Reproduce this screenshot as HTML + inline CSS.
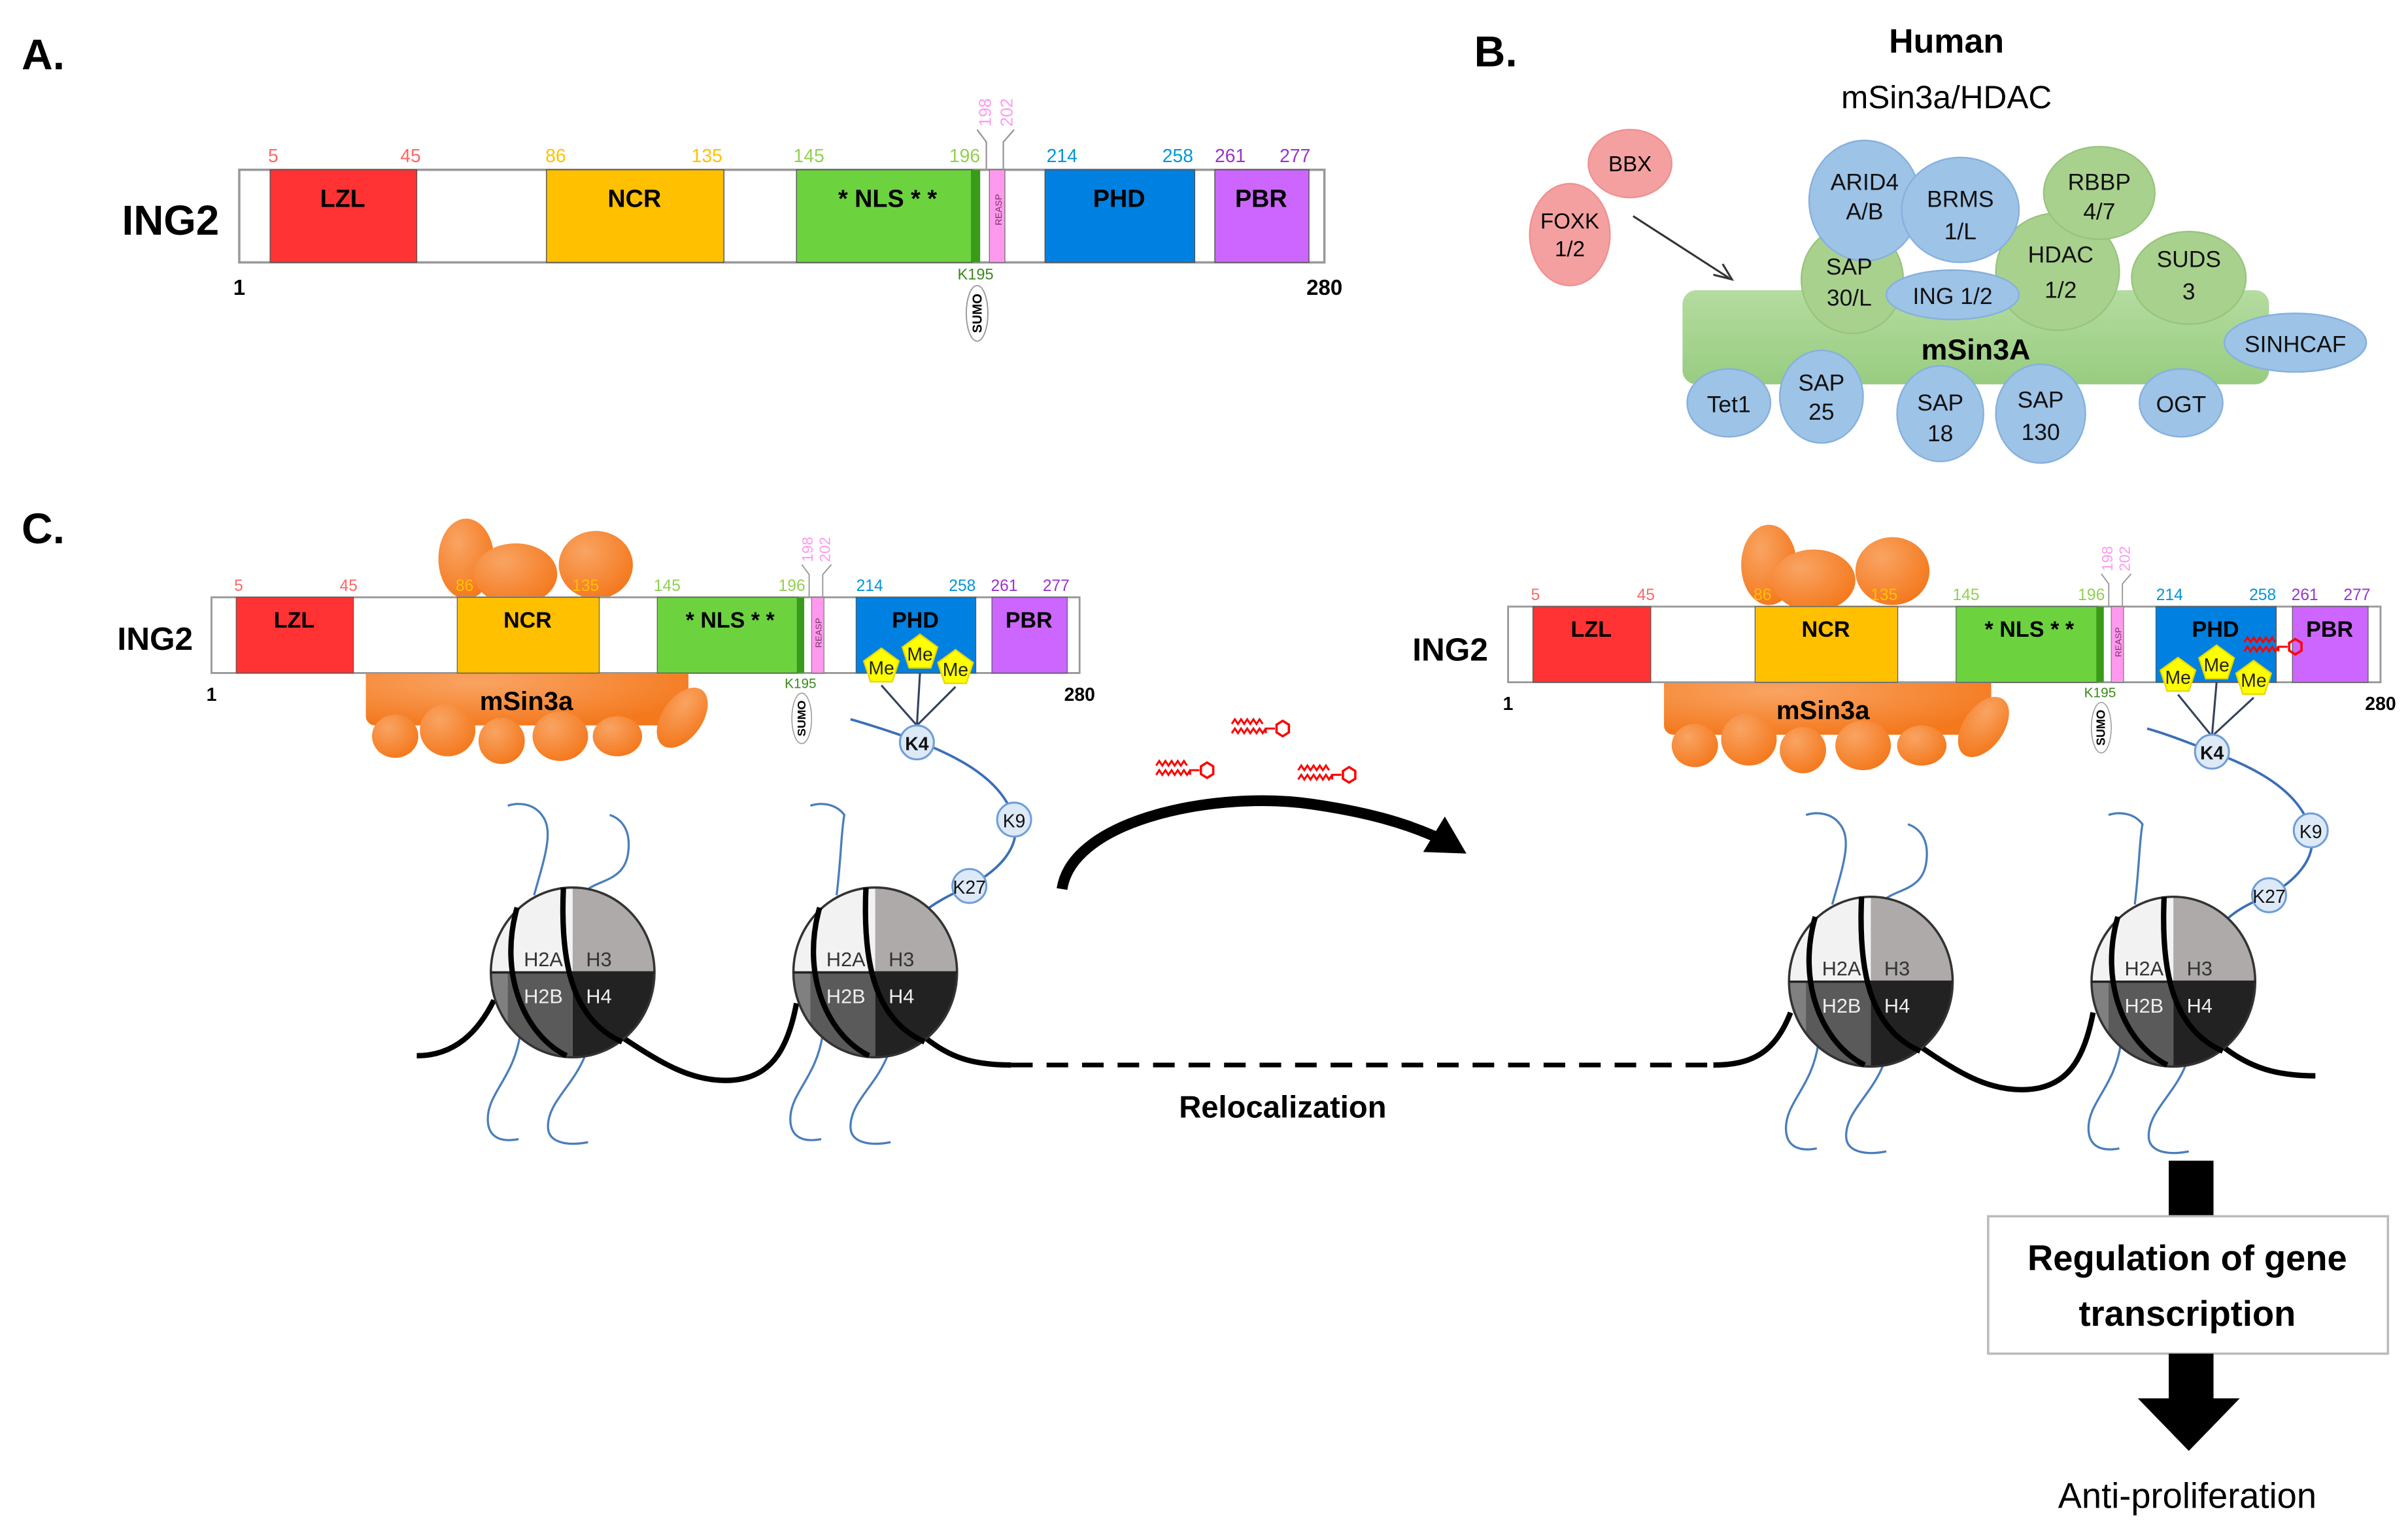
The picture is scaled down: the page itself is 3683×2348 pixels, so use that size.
<!DOCTYPE html>
<html><head><meta charset="utf-8"><style>
html,body{margin:0;padding:0;background:#fff}
svg{display:block}
text{font-family:"Liberation Sans",sans-serif}
</style></head><body>
<svg width="3683" height="2348" viewBox="0 0 1560 994.5" preserveAspectRatio="none" xmlns="http://www.w3.org/2000/svg">
<defs>
<radialGradient id="og" cx="35%" cy="30%" r="75%"><stop offset="0" stop-color="#f9a463"/><stop offset="1" stop-color="#f4781c"/></radialGradient>
<linearGradient id="mg" x1="0" y1="0" x2="0" y2="1"><stop offset="0" stop-color="#b4dca0"/><stop offset="1" stop-color="#98cc80"/></linearGradient>
<symbol id="lip" viewBox="-26 -9 44 18" width="44" height="18" overflow="visible">
<path d="M-24,-4 l2,-3 l2,3 l2,-3 l2,3 l2,-3 l2,3 l2,-3 l2,3 l2,-3 l2,3 M-24,2 l2,-3 l2,3 l2,-3 l2,3 l2,-3 l2,3 l2,-3 l2,3 l2,-3 l2,3 l2,-3 M-2,2 L-2,-1 L4,-1" fill="none" stroke="#f00" stroke-width="1.3"/>
<polygon points="9,-6 13,-3.5 13,1.5 9,4 5,1.5 5,-3.5" fill="none" stroke="#f00" stroke-width="1.5"/>
</symbol>
<symbol id="pent" viewBox="-13 -13 26 26" width="26" height="26" overflow="visible">
<polygon points="0,-12 11.4,-3.7 7,9.7 -7,9.7 -11.4,-3.7" fill="#ffff00" stroke="#e8d800" stroke-width="1"/>
</symbol>
<clipPath id="nc"><ellipse cx="0" cy="0" rx="53" ry="55"/></clipPath>
</defs>

<!-- ===== PANEL A ===== -->
<text x="14" y="45" font-size="28" font-weight="bold">A.</text>
<text x="79" y="152" font-size="27" font-weight="bold">ING2</text>
<g transform="translate(155,110)">
<rect x="0" y="0" width="703" height="60" fill="#fff" stroke="#999" stroke-width="1.5"/>
<rect x="20" y="0" width="95" height="60" fill="#ff3333" stroke="#555" stroke-width=".6"/>
<rect x="199" y="0" width="115" height="60" fill="#ffc000" stroke="#555" stroke-width=".6"/>
<rect x="361" y="0" width="114" height="60" fill="#6cd33f" stroke="#555" stroke-width=".6"/>
<rect x="474" y="0" width="6" height="60" fill="#3a9a1a"/>
<rect x="486" y="0" width="10" height="60" fill="#ff99ee" stroke="#777" stroke-width=".6"/>
<rect x="522" y="0" width="97" height="60" fill="#0080e0" stroke="#555" stroke-width=".6"/>
<rect x="632" y="0" width="61" height="60" fill="#cc66ff" stroke="#555" stroke-width=".6"/>
<g font-size="12" text-anchor="middle">
<text x="22" y="-5" fill="#ff6666">5</text><text x="111" y="-5" fill="#ff6666">45</text>
<text x="205" y="-5" fill="#ffc000">86</text><text x="303" y="-5" fill="#ffc000">135</text>
<text x="369" y="-5" fill="#92d050">145</text><text x="470" y="-5" fill="#92d050">196</text>
<text x="533" y="-5" fill="#0096d6">214</text><text x="608" y="-5" fill="#0096d6">258</text>
<text x="642" y="-5" fill="#9933cc">261</text><text x="684" y="-5" fill="#9933cc">277</text>
</g>
<text transform="translate(487,-28) rotate(-90)" font-size="11" fill="#ff99ee">198</text>
<text transform="translate(501,-28) rotate(-90)" font-size="11" fill="#ff99ee">202</text>
<path d="M478,-26 L484,-18 L484,0 M502,-26 L495,-18 L495,0" fill="none" stroke="#999" stroke-width="1"/>
<g font-size="16" font-weight="bold" text-anchor="middle">
<text x="67" y="24">LZL</text><text x="256" y="24">NCR</text><text x="420" y="24">* NLS * *</text>
<text x="570" y="24">PHD</text><text x="662" y="24">PBR</text></g>
<text transform="translate(494,36) rotate(-90)" font-size="6" fill="#773366">REASP</text>
<text x="477" y="71" font-size="10" fill="#3a8a1a" text-anchor="middle">K195</text>
<ellipse cx="478" cy="93" rx="7" ry="18" fill="#fff" stroke="#999" stroke-width=".8"/>
<text transform="translate(481,93) rotate(-90)" font-size="8.5" font-weight="bold" text-anchor="middle">SUMO</text>
<text x="0" y="81" font-size="14" font-weight="bold" text-anchor="middle">1</text>
<text x="703" y="81" font-size="14" font-weight="bold" text-anchor="middle">280</text>
</g>

<!-- ===== PANEL B ===== -->
<text x="955" y="43" font-size="28" font-weight="bold">B.</text>
<text x="1261" y="34" font-size="22" font-weight="bold" text-anchor="middle">Human</text>
<text x="1261" y="70" font-size="21" text-anchor="middle">mSin3a/HDAC</text>
<ellipse cx="1056" cy="106" rx="27" ry="22" fill="#f4a0a0" stroke="#f09090"/>
<text x="1056" y="111" font-size="14" text-anchor="middle">BBX</text>
<ellipse cx="1017" cy="152" rx="26" ry="33" fill="#f4a0a0" stroke="#f09090"/>
<text x="1017" y="148" font-size="14" text-anchor="middle">FOXK</text><text x="1017" y="166" font-size="14" text-anchor="middle">1/2</text>
<line x1="1058" y1="140" x2="1120" y2="180" stroke="#333" stroke-width="1.3"/>
<path d="M1110,178 L1122,181 L1116,171" fill="none" stroke="#333" stroke-width="1.3"/>
<rect x="1090" y="188" width="380" height="61" rx="9" fill="url(#mg)"/>
<g fill="#a9d18e" stroke="#98c47c">
<ellipse cx="1200" cy="181" rx="33" ry="35"/>
<ellipse cx="1333" cy="176" rx="40" ry="38"/>
<ellipse cx="1360" cy="125" rx="36" ry="30"/>
<ellipse cx="1418" cy="180" rx="37" ry="30"/>
</g>
<g fill="#9dc3e6" stroke="#86b0de">
<ellipse cx="1208" cy="130" rx="36" ry="39"/>
<ellipse cx="1270" cy="136" rx="38" ry="34"/>
<ellipse cx="1265" cy="191" rx="43" ry="16"/>
<ellipse cx="1487" cy="222" rx="46" ry="19"/>
<ellipse cx="1120" cy="261" rx="27" ry="22"/>
<ellipse cx="1180" cy="257" rx="27" ry="30"/>
<ellipse cx="1257" cy="268" rx="28" ry="31"/>
<ellipse cx="1322" cy="268" rx="29" ry="32"/>
<ellipse cx="1413" cy="261" rx="27" ry="22"/>
</g>
<g font-size="15" text-anchor="middle" fill="#111">
<text x="1208" y="123">ARID4</text><text x="1208" y="142">A/B</text>
<text x="1270" y="134">BRMS</text><text x="1270" y="155">1/L</text>
<text x="1360" y="123">RBBP</text><text x="1360" y="142">4/7</text>
<text x="1335" y="170">HDAC</text><text x="1335" y="193">1/2</text>
<text x="1198" y="178">SAP</text><text x="1198" y="198">30/L</text>
<text x="1265" y="197">ING 1/2</text>
<text x="1418" y="173">SUDS</text><text x="1418" y="194">3</text>
<text x="1487" y="228">SINHCAF</text>
<text x="1120" y="267">Tet1</text>
<text x="1180" y="253">SAP</text><text x="1180" y="272">25</text>
<text x="1257" y="266">SAP</text><text x="1257" y="286">18</text>
<text x="1322" y="264">SAP</text><text x="1322" y="285">130</text>
<text x="1413" y="267">OGT</text>
</g>
<text x="1280" y="233" font-size="19" font-weight="bold" text-anchor="middle">mSin3A</text>

<!-- ===== PANEL C ===== -->
<text x="14" y="352" font-size="28" font-weight="bold">C.</text>

<!-- left orange complex -->
<g fill="url(#og)">
<ellipse cx="302" cy="362" rx="18" ry="26"/>
<ellipse cx="334" cy="372" rx="27" ry="20"/>
<ellipse cx="386" cy="366" rx="24" ry="22"/>
<rect x="237" y="430" width="209" height="40" rx="6"/>
<ellipse cx="256" cy="477" rx="15" ry="14"/>
<ellipse cx="290" cy="473" rx="18" ry="17"/>
<ellipse cx="325" cy="480" rx="15" ry="15"/>
<ellipse cx="363" cy="477" rx="18" ry="16"/>
<ellipse cx="400" cy="477" rx="16" ry="13"/>
<ellipse cx="442" cy="465" rx="13" ry="22" transform="rotate(35 442 465)"/>
</g>
<text x="341" y="460" font-size="17" font-weight="bold" text-anchor="middle">mSin3a</text>
<!-- right orange complex -->
<g fill="url(#og)">
<ellipse cx="1146" cy="366" rx="18" ry="26"/>
<ellipse cx="1175" cy="376" rx="27" ry="20"/>
<ellipse cx="1226" cy="370" rx="24" ry="22"/>
<rect x="1078" y="436" width="212" height="40" rx="6"/>
<ellipse cx="1098" cy="483" rx="15" ry="14"/>
<ellipse cx="1133" cy="479" rx="18" ry="17"/>
<ellipse cx="1168" cy="486" rx="15" ry="15"/>
<ellipse cx="1207" cy="483" rx="18" ry="16"/>
<ellipse cx="1245" cy="483" rx="16" ry="13"/>
<ellipse cx="1285" cy="471" rx="13" ry="22" transform="rotate(35 1285 471)"/>
</g>
<text x="1181" y="466" font-size="17" font-weight="bold" text-anchor="middle">mSin3a</text>

<text x="76" y="421" font-size="21" font-weight="bold">ING2</text>
<text x="915" y="428" font-size="21" font-weight="bold">ING2</text>

<!-- left C bar -->
<g transform="translate(137,387) scale(0.80,0.817)">
<rect x="0" y="0" width="703" height="60" fill="#fff" stroke="#999" stroke-width="1.5"/>
<rect x="20" y="0" width="95" height="60" fill="#ff3333" stroke="#555" stroke-width=".6"/>
<rect x="199" y="0" width="115" height="60" fill="#ffc000" stroke="#555" stroke-width=".6"/>
<rect x="361" y="0" width="114" height="60" fill="#6cd33f" stroke="#555" stroke-width=".6"/>
<rect x="474" y="0" width="6" height="60" fill="#3a9a1a"/>
<rect x="486" y="0" width="10" height="60" fill="#ff99ee" stroke="#777" stroke-width=".6"/>
<rect x="522" y="0" width="97" height="60" fill="#0080e0" stroke="#555" stroke-width=".6"/>
<rect x="632" y="0" width="61" height="60" fill="#cc66ff" stroke="#555" stroke-width=".6"/>
<g font-size="13" text-anchor="middle">
<text x="22" y="-5" fill="#ff6666">5</text><text x="111" y="-5" fill="#ff6666">45</text>
<text x="205" y="-5" fill="#ffc000">86</text><text x="303" y="-5" fill="#ffc000">135</text>
<text x="369" y="-5" fill="#92d050">145</text><text x="470" y="-5" fill="#92d050">196</text>
<text x="533" y="-5" fill="#0096d6">214</text><text x="608" y="-5" fill="#0096d6">258</text>
<text x="642" y="-5" fill="#9933cc">261</text><text x="684" y="-5" fill="#9933cc">277</text>
</g>
<text transform="translate(487,-28) rotate(-90)" font-size="12" fill="#ff99ee">198</text>
<text transform="translate(501,-28) rotate(-90)" font-size="12" fill="#ff99ee">202</text>
<path d="M478,-26 L484,-18 L484,0 M502,-26 L495,-18 L495,0" fill="none" stroke="#999" stroke-width="1"/>
<g font-size="18" font-weight="bold" text-anchor="middle">
<text x="67" y="24">LZL</text><text x="256" y="24">NCR</text><text x="420" y="24">* NLS * *</text>
<text x="570" y="24">PHD</text><text x="662" y="24">PBR</text></g>
<text transform="translate(494,40) rotate(-90)" font-size="7" fill="#773366">REASP</text>
<text x="477" y="72" font-size="11" fill="#3a8a1a" text-anchor="middle">K195</text>
<ellipse cx="478" cy="96" rx="8" ry="20" fill="#fff" stroke="#999" stroke-width=".8"/>
<text transform="translate(481,96) rotate(-90)" font-size="9.5" font-weight="bold" text-anchor="middle">SUMO</text>
<text x="0" y="82" font-size="15" font-weight="bold" text-anchor="middle">1</text>
<text x="703" y="82" font-size="15" font-weight="bold" text-anchor="middle">280</text>
</g>

<!-- right C bar -->
<g transform="translate(977,393) scale(0.804,0.817)">
<rect x="0" y="0" width="703" height="60" fill="#fff" stroke="#999" stroke-width="1.5"/>
<rect x="20" y="0" width="95" height="60" fill="#ff3333" stroke="#555" stroke-width=".6"/>
<rect x="199" y="0" width="115" height="60" fill="#ffc000" stroke="#555" stroke-width=".6"/>
<rect x="361" y="0" width="114" height="60" fill="#6cd33f" stroke="#555" stroke-width=".6"/>
<rect x="474" y="0" width="6" height="60" fill="#3a9a1a"/>
<rect x="486" y="0" width="10" height="60" fill="#ff99ee" stroke="#777" stroke-width=".6"/>
<rect x="522" y="0" width="97" height="60" fill="#0080e0" stroke="#555" stroke-width=".6"/>
<rect x="632" y="0" width="61" height="60" fill="#cc66ff" stroke="#555" stroke-width=".6"/>
<g font-size="13" text-anchor="middle">
<text x="22" y="-5" fill="#ff6666">5</text><text x="111" y="-5" fill="#ff6666">45</text>
<text x="205" y="-5" fill="#ffc000">86</text><text x="303" y="-5" fill="#ffc000">135</text>
<text x="369" y="-5" fill="#92d050">145</text><text x="470" y="-5" fill="#92d050">196</text>
<text x="533" y="-5" fill="#0096d6">214</text><text x="608" y="-5" fill="#0096d6">258</text>
<text x="642" y="-5" fill="#9933cc">261</text><text x="684" y="-5" fill="#9933cc">277</text>
</g>
<text transform="translate(487,-28) rotate(-90)" font-size="12" fill="#ff99ee">198</text>
<text transform="translate(501,-28) rotate(-90)" font-size="12" fill="#ff99ee">202</text>
<path d="M478,-26 L484,-18 L484,0 M502,-26 L495,-18 L495,0" fill="none" stroke="#999" stroke-width="1"/>
<g font-size="18" font-weight="bold" text-anchor="middle">
<text x="67" y="24">LZL</text><text x="256" y="24">NCR</text><text x="420" y="24">* NLS * *</text>
<text x="570" y="24">PHD</text><text x="662" y="24">PBR</text></g>
<text transform="translate(494,40) rotate(-90)" font-size="7" fill="#773366">REASP</text>
<text x="477" y="72" font-size="11" fill="#3a8a1a" text-anchor="middle">K195</text>
<ellipse cx="478" cy="96" rx="8" ry="20" fill="#fff" stroke="#999" stroke-width=".8"/>
<text transform="translate(481,96) rotate(-90)" font-size="9.5" font-weight="bold" text-anchor="middle">SUMO</text>
<text x="0" y="82" font-size="15" font-weight="bold" text-anchor="middle">1</text>
<text x="703" y="82" font-size="15" font-weight="bold" text-anchor="middle">280</text>
</g>

<!-- histone tails with K marks, left -->
<path d="M551,466 C565,470 580,475 594,480 C620,490 650,505 657,531 C662,550 645,565 628,574 C615,580 605,585 597,592" fill="none" stroke="#3a6fb5" stroke-width="1.6"/>
<path d="M571,444 L594,470 M596,436 L594,470 M619,445 L594,470" stroke="#33415c" stroke-width="1.3"/>
<!-- right -->
<path d="M1391,472 C1405,476 1420,482 1433,487 C1460,497 1490,512 1497,538 C1502,557 1485,572 1470,580 C1455,586 1447,591 1440,598" fill="none" stroke="#3a6fb5" stroke-width="1.6"/>
<path d="M1411,450 L1433,477 M1436,442 L1433,477 M1460,452 L1433,477" stroke="#33415c" stroke-width="1.3"/>

<g fill="#dde9f7" stroke="#6f9ed8" stroke-width="1.3">
<circle cx="594" cy="481" r="11"/><circle cx="657" cy="531" r="11"/><circle cx="628" cy="574" r="11"/>
<circle cx="1433" cy="487" r="11"/><circle cx="1497" cy="538" r="11"/><circle cx="1470" cy="580" r="11"/>
</g>
<g font-size="12" text-anchor="middle" fill="#111">
<text x="594" y="486" font-weight="bold">K4</text><text x="657" y="536">K9</text><text x="628" y="579">K27</text>
<text x="1433" y="492" font-weight="bold">K4</text><text x="1497" y="543">K9</text><text x="1470" y="585">K27</text>
</g>

<!-- Me pentagons -->
<use href="#pent" x="558" y="419"/><use href="#pent" x="583" y="410"/><use href="#pent" x="606" y="420"/>
<use href="#pent" x="1398" y="425"/><use href="#pent" x="1423" y="417"/><use href="#pent" x="1447" y="427"/>
<g font-size="12" text-anchor="middle" fill="#222">
<text x="571" y="437">Me</text><text x="596" y="428">Me</text><text x="619" y="438">Me</text>
<text x="1411" y="443">Me</text><text x="1436" y="435">Me</text><text x="1460" y="445">Me</text>
</g>

<!-- lipids -->
<use href="#lip" x="796" y="464"/>
<use href="#lip" x="747" y="491"/>
<use href="#lip" x="839" y="494"/>
<use href="#lip" x="1452" y="411"/>

<!-- curved arrow -->
<path d="M688,576 C695,530 790,512 850,521 C885,526 910,533 932,543" fill="none" stroke="#000" stroke-width="7"/>
<polygon points="936,529 950,553 922,552" fill="#000"/>

<!-- DNA -->
<g fill="none" stroke="#000" stroke-width="3.5">
<path d="M270,684 C295,684 310,668 320,648"/>
<path d="M403,672 C430,690 448,700 470,700 C498,700 510,682 516,650"/>
<path d="M599,672 C615,685 630,690 655,690"/>
<path d="M1110,690 C1135,690 1150,682 1160,656"/>
<path d="M1244,678 C1270,696 1288,706 1310,706 C1338,706 1350,688 1356,656"/>
<path d="M1440,678 C1458,692 1475,697 1500,697"/>
</g>
<path d="M655,690 L1110,690" stroke="#000" stroke-width="3" stroke-dasharray="14,9"/>

<!-- nucleosomes -->
<g transform="translate(371,630)">
<g fill="none" stroke="#4a7ebb" stroke-width="1.4">
<path d="M-25,-50 C-18,-75 -12,-92 -20,-102 C-26,-110 -36,-110 -42,-108"/>
<path d="M10,-54 C18,-60 34,-60 36,-78 C38,-94 30,-100 24,-102"/>
<path d="M-34,40 C-38,68 -55,78 -55,95 C-55,108 -45,110 -35,108"/>
<path d="M8,54 C0,74 -16,84 -16,100 C-16,112 0,112 10,110"/>
</g>
<g clip-path="url(#nc)">
<rect x="-60" y="-60" width="60" height="60" fill="#f2f2f2"/><rect x="0" y="-60" width="60" height="60" fill="#aeaaaa"/>
<rect x="-60" y="0" width="60" height="60" fill="#5a5a5a"/><rect x="0" y="0" width="60" height="60" fill="#222"/>
<rect x="-60" y="0" width="18" height="60" fill="#808080"/>
</g>
<ellipse cx="0" cy="0" rx="53" ry="55" fill="none" stroke="#333" stroke-width="1.5"/>
<line x1="-53" y1="0" x2="53" y2="0" stroke="#222" stroke-width="1.5"/>
<g fill="none" stroke="#000" stroke-width="3.5">
<path d="M-6,-55 C-8,-10 -2,30 32,45"/>
<path d="M-36,-42 C-48,0 -32,40 -4,54"/>
</g>
<text x="-19" y="-4" font-size="13" fill="#333" text-anchor="middle">H2A</text><text x="17" y="-4" font-size="13" fill="#333" text-anchor="middle">H3</text>
<text x="-19" y="20" font-size="13" fill="#eee" text-anchor="middle">H2B</text><text x="17" y="20" font-size="13" fill="#eee" text-anchor="middle">H4</text>
</g>
<g transform="translate(567,630)">
<g fill="none" stroke="#4a7ebb" stroke-width="1.4">
<path d="M-25,-50 C-22,-75 -22,-92 -20,-102 C-26,-110 -36,-110 -42,-108"/>
<path d="M-34,40 C-38,68 -55,78 -55,95 C-55,108 -45,110 -35,108"/>
<path d="M8,54 C0,74 -16,84 -16,100 C-16,112 0,112 10,110"/>
</g>
<g clip-path="url(#nc)">
<rect x="-60" y="-60" width="60" height="60" fill="#f2f2f2"/><rect x="0" y="-60" width="60" height="60" fill="#aeaaaa"/>
<rect x="-60" y="0" width="60" height="60" fill="#5a5a5a"/><rect x="0" y="0" width="60" height="60" fill="#222"/>
<rect x="-60" y="0" width="18" height="60" fill="#808080"/>
</g>
<ellipse cx="0" cy="0" rx="53" ry="55" fill="none" stroke="#333" stroke-width="1.5"/>
<line x1="-53" y1="0" x2="53" y2="0" stroke="#222" stroke-width="1.5"/>
<g fill="none" stroke="#000" stroke-width="3.5">
<path d="M-6,-55 C-8,-10 -2,30 32,45"/>
<path d="M-36,-42 C-48,0 -32,40 -4,54"/>
</g>
<text x="-19" y="-4" font-size="13" fill="#333" text-anchor="middle">H2A</text><text x="17" y="-4" font-size="13" fill="#333" text-anchor="middle">H3</text>
<text x="-19" y="20" font-size="13" fill="#eee" text-anchor="middle">H2B</text><text x="17" y="20" font-size="13" fill="#eee" text-anchor="middle">H4</text>
</g>
<g transform="translate(1212,636)">
<g fill="none" stroke="#4a7ebb" stroke-width="1.4">
<path d="M-25,-50 C-18,-75 -12,-92 -20,-102 C-26,-110 -36,-110 -42,-108"/>
<path d="M10,-54 C18,-60 34,-60 36,-78 C38,-94 30,-100 24,-102"/>
<path d="M-34,40 C-38,68 -55,78 -55,95 C-55,108 -45,110 -35,108"/>
<path d="M8,54 C0,74 -16,84 -16,100 C-16,112 0,112 10,110"/>
</g>
<g clip-path="url(#nc)">
<rect x="-60" y="-60" width="60" height="60" fill="#f2f2f2"/><rect x="0" y="-60" width="60" height="60" fill="#aeaaaa"/>
<rect x="-60" y="0" width="60" height="60" fill="#5a5a5a"/><rect x="0" y="0" width="60" height="60" fill="#222"/>
<rect x="-60" y="0" width="18" height="60" fill="#808080"/>
</g>
<ellipse cx="0" cy="0" rx="53" ry="55" fill="none" stroke="#333" stroke-width="1.5"/>
<line x1="-53" y1="0" x2="53" y2="0" stroke="#222" stroke-width="1.5"/>
<g fill="none" stroke="#000" stroke-width="3.5">
<path d="M-6,-55 C-8,-10 -2,30 32,45"/>
<path d="M-36,-42 C-48,0 -32,40 -4,54"/>
</g>
<text x="-19" y="-4" font-size="13" fill="#333" text-anchor="middle">H2A</text><text x="17" y="-4" font-size="13" fill="#333" text-anchor="middle">H3</text>
<text x="-19" y="20" font-size="13" fill="#eee" text-anchor="middle">H2B</text><text x="17" y="20" font-size="13" fill="#eee" text-anchor="middle">H4</text>
</g>
<g transform="translate(1408,636)">
<g fill="none" stroke="#4a7ebb" stroke-width="1.4">
<path d="M-25,-50 C-22,-75 -22,-92 -20,-102 C-26,-110 -36,-110 -42,-108"/>
<path d="M-34,40 C-38,68 -55,78 -55,95 C-55,108 -45,110 -35,108"/>
<path d="M8,54 C0,74 -16,84 -16,100 C-16,112 0,112 10,110"/>
</g>
<g clip-path="url(#nc)">
<rect x="-60" y="-60" width="60" height="60" fill="#f2f2f2"/><rect x="0" y="-60" width="60" height="60" fill="#aeaaaa"/>
<rect x="-60" y="0" width="60" height="60" fill="#5a5a5a"/><rect x="0" y="0" width="60" height="60" fill="#222"/>
<rect x="-60" y="0" width="18" height="60" fill="#808080"/>
</g>
<ellipse cx="0" cy="0" rx="53" ry="55" fill="none" stroke="#333" stroke-width="1.5"/>
<line x1="-53" y1="0" x2="53" y2="0" stroke="#222" stroke-width="1.5"/>
<g fill="none" stroke="#000" stroke-width="3.5">
<path d="M-6,-55 C-8,-10 -2,30 32,45"/>
<path d="M-36,-42 C-48,0 -32,40 -4,54"/>
</g>
<text x="-19" y="-4" font-size="13" fill="#333" text-anchor="middle">H2A</text><text x="17" y="-4" font-size="13" fill="#333" text-anchor="middle">H3</text>
<text x="-19" y="20" font-size="13" fill="#eee" text-anchor="middle">H2B</text><text x="17" y="20" font-size="13" fill="#eee" text-anchor="middle">H4</text>
</g>

<text x="831" y="724" font-size="20" font-weight="bold" text-anchor="middle">Relocalization</text>

<!-- outcome -->
<rect x="1405" y="752" width="29" height="36" fill="#000"/>
<rect x="1288" y="788" width="259" height="89" fill="#fff" stroke="#bbb" stroke-width="1.5"/>
<text x="1417" y="823" font-size="23" font-weight="bold" text-anchor="middle">Regulation of gene</text>
<text x="1417" y="859" font-size="23" font-weight="bold" text-anchor="middle">transcription</text>
<rect x="1405" y="877" width="29" height="30" fill="#000"/>
<polygon points="1385,906 1451,906 1418,940" fill="#000"/>
<text x="1417" y="977" font-size="23" text-anchor="middle">Anti-proliferation</text>
</svg>
</body></html>
